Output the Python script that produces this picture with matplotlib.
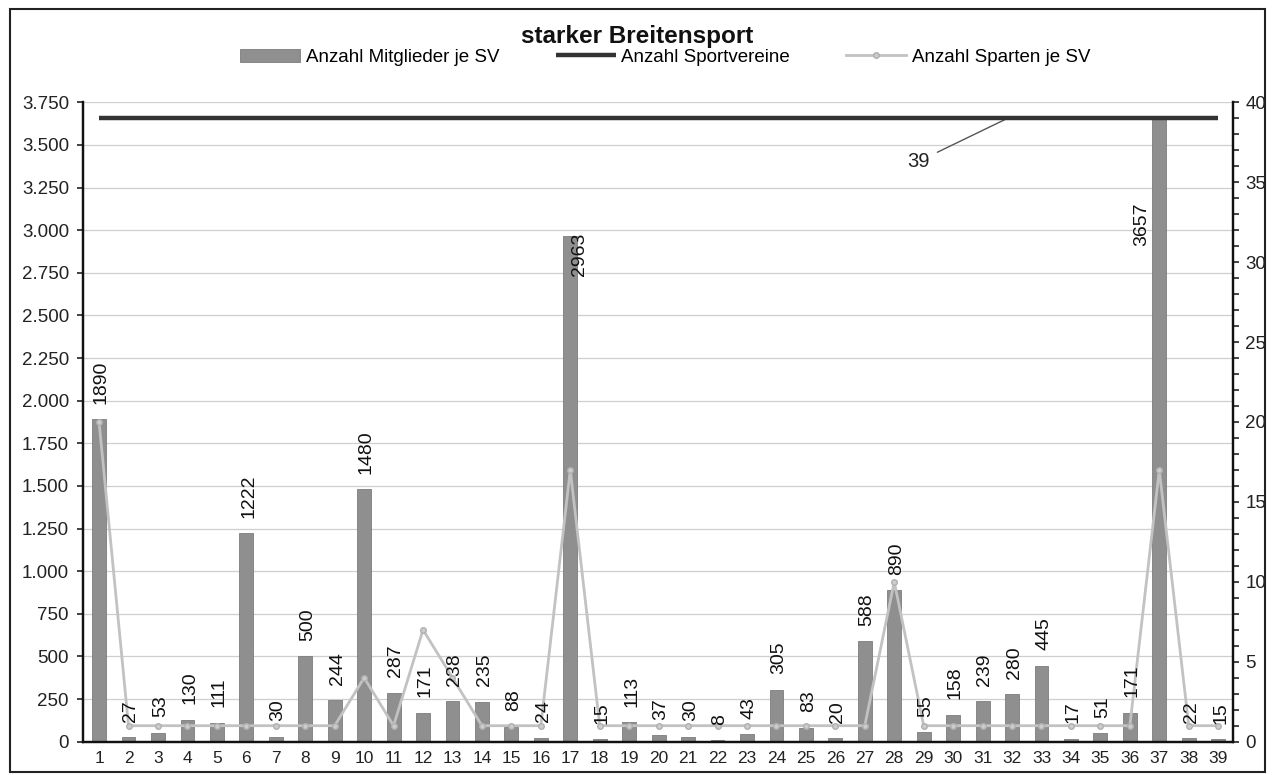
import matplotlib.pyplot as plt
import matplotlib.ticker as mticker
from matplotlib.patches import Rectangle
import numpy as np

plt.rcParams['font.family'] = ['Liberation Sans', 'DejaVu Sans']

# Data
sv_nr = [str(i) for i in range(1, 40)]
mitglieder = [1890, 27, 53, 130, 111, 1222, 30, 500, 244, 1480,
              287, 171, 238, 235, 88, 24, 2963, 15, 113, 37,
              30, 8, 43, 305, 83, 20, 588, 890, 55, 158,
              239, 280, 445, 17, 51, 171, 3657, 22, 15]
sparten = [20, 1, 1, 1, 1, 1, 1, 1, 1, 4,
           1, 7, 4, 1, 1, 1, 17, 1, 1, 1,
           1, 1, 1, 1, 1, 1, 1, 10, 1, 1,
           1, 1, 1, 1, 1, 1, 17, 1, 1]
sportvereine = [39] * 39

x = np.arange(len(sv_nr))

fig = plt.figure(figsize=(12.75, 7.75), dpi=100)
ax = fig.add_axes([0.065, 0.043, 0.902, 0.825])
ax2 = ax.twinx()

# bars (left axis)
bars = ax.bar(x, mitglieder, width=0.47, color='#8f8f8f', edgecolor='#7c7c7c',
              linewidth=0.6, zorder=2, label='Anzahl Mitglieder je SV')
ax.set_ylim(0, 3750)
ax.set_xlim(-0.55, 38.5)
ax.yaxis.set_major_locator(mticker.MultipleLocator(250))
ax.yaxis.set_major_formatter(mticker.FuncFormatter(lambda v, p: f'{int(v):,}'.replace(',', '.')))
ax.grid(axis='y', color='#cfcfcf', linewidth=0.9, zorder=0)
ax.set_axisbelow(True)
ax.set_xticks(x)
ax.set_xticklabels(sv_nr, fontsize=12.5, color='#222222')
ax.tick_params(axis='x', length=0, pad=7)
ax.tick_params(axis='y', labelsize=13.5, length=4, width=1.2, direction='out',
               colors='#222222', pad=6)

# lines (right axis)
ax2.plot(x, sportvereine, color='#333333', linewidth=3.2, zorder=4,
         solid_capstyle='butt', label='Anzahl Sportvereine')
ax2.plot(x, sparten, color='#c2c2c2', linewidth=2, marker='o', markersize=4,
         markerfacecolor='#cccccc', markeredgecolor='#b0b0b0', zorder=3,
         label='Anzahl Sparten je SV')
ax2.set_ylim(0, 40)
ax2.yaxis.set_major_locator(mticker.MultipleLocator(5))
ax2.yaxis.set_minor_locator(mticker.MultipleLocator(1))
ax2.tick_params(axis='y', which='both', length=4, width=1.2, direction='out',
                labelsize=13.5, colors='#222222', pad=5)

# data labels (drawn on top of everything, in bar coordinates)
for xi, v in zip(x, mitglieder):
    if v == 2963:
        ax2.text(xi + 0.3, v + 25, str(v), rotation=90, ha='center', va='top',
                 fontsize=14, color='#111111', zorder=5, transform=ax.transData)
    elif v == 3657:
        ax2.text(xi - 0.6, 3035, str(v), rotation=90, ha='center', va='center',
                 fontsize=14, color='#111111', zorder=5, transform=ax.transData)
    else:
        ax2.text(xi + 0.08, v + 90, str(v), rotation=90, ha='center', va='bottom',
                 fontsize=14, color='#111111', zorder=5, transform=ax.transData)

ax2.annotate('39', xy=(30.85, 39), xytext=(28.2, 36.3), textcoords='data',
             ha='right', va='center', fontsize=14.5, color='#222222',
             arrowprops=dict(arrowstyle='-', color='#555555', lw=1,
                             shrinkA=4, shrinkB=0))

for a in (ax, ax2):
    a.spines['top'].set_visible(False)
    for s in ('left', 'right', 'bottom'):
        a.spines[s].set_color('#111111')
        a.spines[s].set_linewidth(1.6)

ax2.patch.set_visible(False)

# legend and title
handles = [bars] + ax2.get_lines()
fig.legend(handles, [h.get_label() for h in handles], loc='center',
           bbox_to_anchor=(0.522, 0.926), ncol=3, frameon=False, fontsize=13.5,
           handlelength=3.2, columnspacing=3.0, handletextpad=0.3)
fig.text(0.5, 0.953, 'starker Breitensport', ha='center', va='center',
         fontsize=17.5, fontweight='bold', color='#111111')

# outer frame
fig.patches.append(Rectangle((0.008, 0.004), 0.984, 0.985, transform=fig.transFigure,
                             fill=False, edgecolor='#222222', linewidth=1.5))

fig.savefig('out.png', dpi=100)
